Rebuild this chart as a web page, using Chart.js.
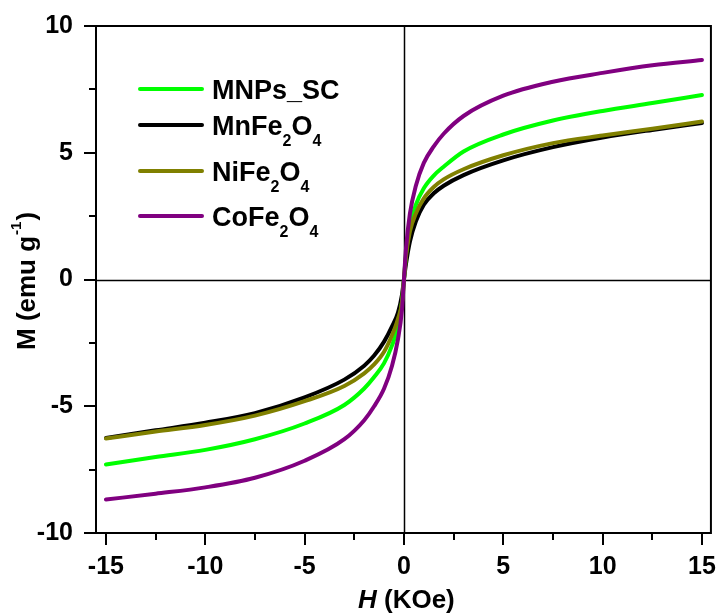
<!DOCTYPE html>
<html>
<head>
<meta charset="utf-8">
<script src="https://cdn.jsdelivr.net/npm/chart.js@4/dist/chart.umd.min.js"></script>
<style>
  body { margin: 0; background: #fff; }
  canvas { display: block; }
</style>
</head>
<body>
<canvas id="grafiek" width="723" height="614"></canvas>
<script>
// veld H (KOe)
const veld = [-15, -12.5, -10, -7.5, -5, -3, -2, -1.5, -1, -0.6, -0.3, -0.1, 0,
              0.1, 0.3, 0.6, 1, 1.5, 2, 3, 5, 7.5, 10, 12.5, 15];

// magnetisatie M (emu/g) per monster
const mnpsSC = [-7.3, -7.0, -6.72, -6.3, -5.68, -4.95, -4.3, -3.85, -3.3, -2.6, -1.85, -0.9, 0,
                1.0, 2.1, 2.95, 3.6, 4.1, 4.45, 5.05, 5.72, 6.27, 6.65, 6.96, 7.28];
const mnFe2O4 = [-6.25, -5.95, -5.65, -5.27, -4.65, -3.95, -3.4, -3.0, -2.45, -1.85, -1.3, -0.6, 0,
                 0.6, 1.5, 2.3, 2.95, 3.4, 3.7, 4.12, 4.7, 5.22, 5.6, 5.9, 6.17];
const niFe2O4 = [-6.27, -6.0, -5.74, -5.37, -4.8, -4.2, -3.7, -3.35, -2.85, -2.2, -1.55, -0.9, 0,
                 0.9, 1.9, 2.6, 3.2, 3.65, 3.95, 4.35, 4.9, 5.38, 5.68, 5.95, 6.23];
const coFe2O4 = [-8.68, -8.45, -8.2, -7.82, -7.15, -6.3, -5.55, -5.0, -4.3, -3.4, -2.35, -1.2, 0,
                 1.2, 2.6, 3.7, 4.6, 5.25, 5.75, 6.45, 7.25, 7.8, 8.15, 8.45, 8.66];

const namen = ['MNPs_SC', 'MnFe2O4', 'NiFe2O4', 'CoFe2O4'];
const kleuren = ['#00ff00', '#000000', '#808000', '#800080'];
const reeksen = [mnpsSC, mnFe2O4, niFe2O4, coFe2O4];
const volgorde = [2, 3, 1, 0]; // paars bovenop

const xTicks = [-15, -12.5, -10, -7.5, -5, -2.5, 0, 2.5, 5, 7.5, 10, 12.5, 15];
const yTicks = [-10, -7.5, -5, -2.5, 0, 2.5, 5, 7.5, 10];

const FONT = '"Liberation Sans", Arial, sans-serif';

// tekst met cijfers als subscript
function tekstMetSub(ctx, txt, x, y) {
  for (const ch of txt) {
    if (/[0-9]/.test(ch)) {
      ctx.font = 'bold 16px ' + FONT;
      ctx.fillText(ch, x, y + 11);
    } else {
      ctx.font = 'bold 27px ' + FONT;
      ctx.fillText(ch, x, y);
    }
    x += ctx.measureText(ch).width;
  }
}

const kader = {
  id: 'kader',
  beforeDatasetsDraw(chart) {
    const { ctx, chartArea: a, scales: { x, y } } = chart;
    ctx.save();
    ctx.strokeStyle = '#000';
    ctx.lineWidth = 1.5;
    const x0 = Math.round(x.getPixelForValue(0)) + 0.5;
    const y0 = Math.round(y.getPixelForValue(0)) + 0.5;
    ctx.beginPath();
    ctx.moveTo(x0, a.top); ctx.lineTo(x0, a.bottom);
    ctx.moveTo(a.left, y0); ctx.lineTo(a.right, y0);
    ctx.stroke();
    ctx.restore();
  },
  afterDraw(chart) {
    const { ctx, chartArea: a, scales: { x, y } } = chart;
    ctx.save();
    ctx.strokeStyle = '#000';
    ctx.lineWidth = 2;
    ctx.strokeRect(a.left, a.top, a.right - a.left, a.bottom - a.top);

    // ticks naar buiten
    ctx.beginPath();
    x.ticks.forEach(t => {
      const px = Math.round(x.getPixelForValue(t.value));
      const len = t.value % 5 === 0 ? 12 : 7;
      ctx.moveTo(px, a.bottom); ctx.lineTo(px, a.bottom + len);
    });
    y.ticks.forEach(t => {
      const py = Math.round(y.getPixelForValue(t.value));
      const len = t.value % 5 === 0 ? 12 : 7;
      ctx.moveTo(a.left, py); ctx.lineTo(a.left - len, py);
    });
    ctx.stroke();

    // legenda
    ctx.fillStyle = '#000';
    ctx.textBaseline = 'alphabetic';
    ctx.textAlign = 'left';
    const rijen = [89, 125, 171, 216];
    chart.data.datasets.forEach((ds, i) => {
      const ly = rijen[i];
      ctx.strokeStyle = ds.borderColor;
      ctx.lineWidth = 4;
      ctx.lineCap = 'round';
      ctx.beginPath();
      ctx.moveTo(140, ly); ctx.lineTo(202, ly);
      ctx.stroke();
      tekstMetSub(ctx, ds.label, 212, ly + 10);
    });

    // x-as titel
    ctx.font = 'italic bold 26px ' + FONT;
    let tx = 358;
    ctx.fillText('H', tx, 608);
    tx += ctx.measureText('H ').width;
    ctx.font = 'bold 26px ' + FONT;
    ctx.fillText('(KOe)', tx, 608);

    // y-as titel
    ctx.translate(35, 350);
    ctx.rotate(-Math.PI / 2);
    ctx.font = 'bold 26px ' + FONT;
    ctx.fillText('M (emu g', 0, 0);
    let w = ctx.measureText('M (emu g').width;
    ctx.font = 'bold 15px ' + FONT;
    ctx.fillText('-1', w + 1, -14);
    w += ctx.measureText('-1').width + 2;
    ctx.font = 'bold 26px ' + FONT;
    ctx.fillText(')', w, 0);
    ctx.restore();
  }
};

const ctx = document.getElementById('grafiek').getContext('2d');

new Chart(ctx, {
  type: 'line',
  data: {
    datasets: namen.map((naam, i) => ({
      label: naam,
      data: veld.map((h, j) => ({ x: h, y: reeksen[i][j] })),
      borderColor: kleuren[i],
      backgroundColor: kleuren[i],
      borderWidth: 4,
      pointRadius: 0,
      borderCapStyle: 'round',
      cubicInterpolationMode: 'monotone',
      order: volgorde[i]
    }))
  },
  options: {
    responsive: false,
    animation: false,
    layout: { padding: { top: 25, right: 8, left: 0, bottom: 0 } },
    plugins: {
      legend: { display: false },
      tooltip: { enabled: false }
    },
    scales: {
      x: {
        type: 'linear',
        min: -15.5,
        max: 15.45,
        afterBuildTicks: s => { s.ticks = xTicks.map(v => ({ value: v })); },
        afterFit: s => { s.height = 81; },
        border: { display: false },
        grid: { drawOnChartArea: false, drawTicks: true, tickLength: 12, tickColor: 'transparent' },
        ticks: {
          color: '#000',
          padding: 7,
          maxRotation: 0,
          autoSkip: false,
          font: { family: FONT, size: 25, weight: 'bold' },
          callback: v => (v % 5 === 0 ? v : '')
        }
      },
      y: {
        min: -10,
        max: 10,
        afterBuildTicks: s => { s.ticks = yTicks.map(v => ({ value: v })); },
        afterFit: s => { s.width = 96; },
        border: { display: false },
        grid: { drawOnChartArea: false, drawTicks: true, tickLength: 12, tickColor: 'transparent' },
        ticks: {
          color: '#000',
          padding: 11,
          autoSkip: false,
          font: { family: FONT, size: 25, weight: 'bold' },
          callback: v => (v % 5 === 0 ? v : '')
        }
      }
    }
  },
  plugins: [kader]
});
</script>
</body>
</html>
